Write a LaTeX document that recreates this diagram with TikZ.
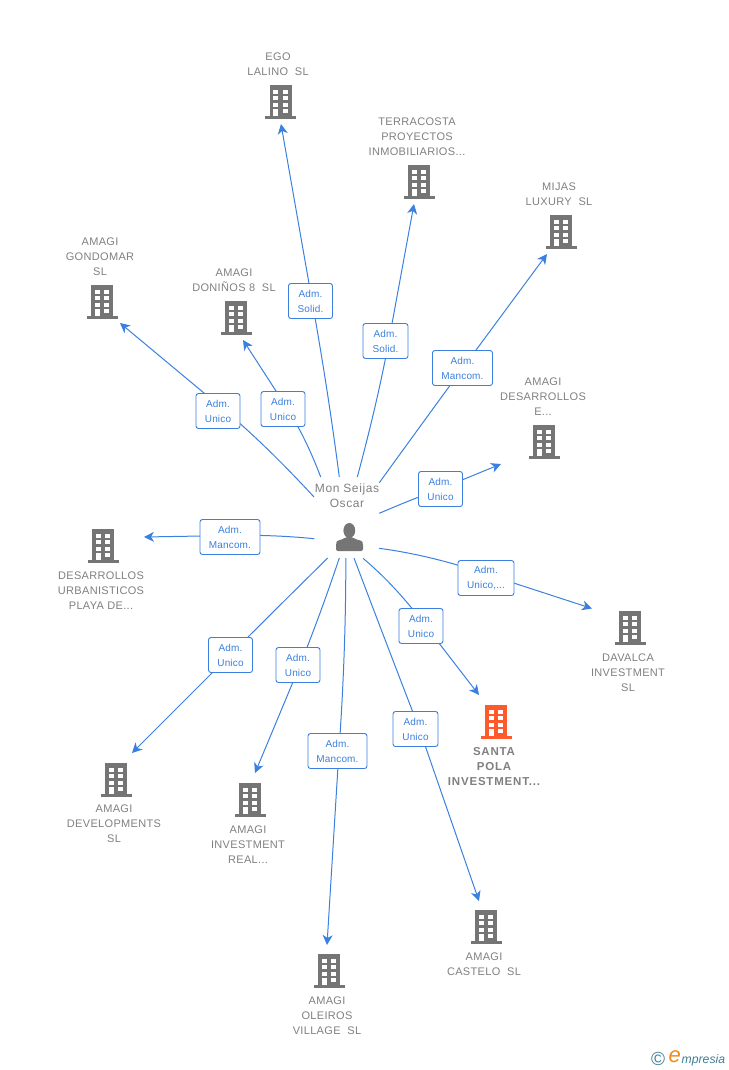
\documentclass[tikz,border=0pt]{standalone}
\usepackage{fontspec}
\setmainfont{Liberation Sans}
\usetikzlibrary{arrows.meta,backgrounds,calc}
\definecolor{linkblue}{HTML}{3B80DE}
\definecolor{txtgrey}{HTML}{808080}
\definecolor{icongrey}{HTML}{757575}
\definecolor{iconorange}{HTML}{FF5A2B}
\definecolor{logoteal}{HTML}{3E7F96}
\definecolor{logoorange}{HTML}{F08A1D}
\tikzset{
  conn/.style={draw=linkblue,line width=1pt},
  connarrow/.style={conn,-{Stealth[length=10pt,width=10pt,inset=3pt]}},
  rolebox/.style={draw=linkblue,line width=.9pt,rounded corners=2.5pt,fill=white,text=linkblue,
    font=\fontsize{10}{15}\selectfont\addfontfeature{LetterSpace=1.5},align=center,inner sep=0pt,minimum height=35pt},
  companylabel/.style={text=txtgrey,font=\fontsize{11}{15}\selectfont\addfontfeature{LetterSpace=3},align=center,inner sep=0pt},
  mainlabel/.style={text=txtgrey,font=\fontsize{11.5}{15}\selectfont\bfseries\addfontfeature{LetterSpace=7},align=center,inner sep=0pt},
  building/.pic={
    \fill[pic actions] (-11,0) rectangle (11,31);
    \fill[pic actions] (-15.5,30.7) rectangle (15.5,33.7);
    \foreach \yy in {4.7,11.2,17.7,24.2}{
      \fill[white] (2.4,\yy) rectangle (7.4,\yy+3.9);}
    \foreach \yy in {4.7,11.2,17.7}{
      \fill[white] (-7.5,\yy) rectangle (-2.5,\yy+3.9);}
    \fill[white] (-7.5,24.2) rectangle (-2.5,31);
  }
}
% start, quadratic control, point under the box, arrow end
\newcommand{\linkup}[4]{%
  \begin{scope}[on background layer]
    \draw[conn] (#1) .. controls ($(#1)!.667!(#2)$) and ($(#3)!.667!(#2)$) .. (#3);
    \draw[connarrow] (#3) -- (#4);
  \end{scope}}
\begin{document}
\begin{tikzpicture}[x=1pt,y=-1pt]
\useasboundingbox (0,0) rectangle (728,1070);
% person
\node[text=txtgrey,font=\fontsize{12}{15}\selectfont\addfontfeature{LetterSpace=5},align=center,inner sep=0pt] (personlabel) at (347,496) {Mon Seijas\\Oscar};
\fill[icongrey] (349.3,530.5) ellipse (5.9 and 7.5);
\fill[icongrey,rounded corners=2pt] (336,551) -- (336,544) .. controls (337,540) and (342,540) .. (345.5,537) -- (353,537) .. controls (356,540) and (362,540) .. (363,544) -- (363,551) -- cycle;
% buildings
\foreach \cx/\ty in {280.5/85,419/165,561/215,544/425,102/285,236/301,103/529,630/611,116/763,250/783,486/910,329/954}{
  \pic[icongrey] at (\cx,\ty) {building};}
\pic[iconorange] at (496,705) {building};
% company labels
\node[companylabel] (ego) at (278,64) {EGO\\LALINO\ \ SL};
\node[companylabel] (terracosta) at (417,137) {TERRACOSTA\\PROYECTOS\\INMOBILIARIOS...};
\node[companylabel] (mijas) at (559,194) {MIJAS\\LUXURY\ \ SL};
\node[companylabel] (desarrollose) at (543,397) {AMAGI\\DESARROLLOS\\E...};
\node[companylabel] (gondomar) at (100,257) {AMAGI\\GONDOMAR\\SL};
\node[companylabel] (doninos) at (234,280) {AMAGI\\DONIÑOS 8\ \ SL};
\node[companylabel] (urbanisticos) at (101,591) {DESARROLLOS\\URBANISTICOS\\PLAYA DE...};
\node[companylabel] (davalca) at (628,673) {DAVALCA\\INVESTMENT\\SL};
\node[mainlabel] (santa) at (494,767) {SANTA\\POLA\\INVESTMENT...};
\node[companylabel] (developments) at (114,824) {AMAGI\\DEVELOPMENTS\\SL};
\node[companylabel] (investment) at (248,845) {AMAGI\\INVESTMENT\\REAL...};
\node[companylabel] (castelo) at (484,964) {AMAGI\\CASTELO\ \ SL};
\node[companylabel] (oleiros) at (327,1016) {AMAGI\\OLEIROS\\VILLAGE\ \ SL};
% role boxes
\node[rolebox,minimum width=44pt] (bego) at (310.5,301) {Adm.\\Solid.};
\node[rolebox,minimum width=45pt] (bterr) at (385.5,341) {Adm.\\Solid.};
\node[rolebox,minimum width=60pt] (bmijas) at (462.5,368) {Adm.\\Mancom.};
\node[rolebox,minimum width=44pt] (bdese) at (440.5,489) {Adm.\\Unico};
\node[rolebox,minimum width=44pt] (bdon) at (283,409) {Adm.\\Unico};
\node[rolebox,minimum width=44pt] (bgon) at (218,411) {Adm.\\Unico};
\node[rolebox,minimum width=60pt] (burb) at (230,537) {Adm.\\Mancom.};
\node[rolebox,minimum width=56pt] (bdav) at (486,578) {Adm.\\Unico,...};
\node[rolebox,minimum width=44pt] (bsan) at (421,626) {Adm.\\Unico};
\node[rolebox,minimum width=45pt] (bcas) at (415.5,729) {Adm.\\Unico};
\node[rolebox,minimum width=59pt] (bole) at (337.5,751) {Adm.\\Mancom.};
\node[rolebox,minimum width=44pt] (binv) at (298,665) {Adm.\\Unico};
\node[rolebox,minimum width=44pt] (bdev) at (230.5,655) {Adm.\\Unico};
% connector points
\coordinate (s1) at (339.3,477); \coordinate (c1) at (328,390); \coordinate (v1) at (312,300.5); \coordinate (e1) at (281,124);
\coordinate (s2) at (357.3,477); \coordinate (c2) at (378,400); \coordinate (v2) at (389,340); \coordinate (e2) at (414,204);
\coordinate (s3) at (379.3,482.7); \coordinate (c3) at (421,425); \coordinate (v3) at (463.5,367); \coordinate (e3) at (547,254);
\coordinate (s4) at (379.3,513.3); \coordinate (c4) at (410,500); \coordinate (v4) at (440,489); \coordinate (e4) at (501,464);
\coordinate (s5) at (320.7,477); \coordinate (c5) at (306,438); \coordinate (v5) at (287,408); \coordinate (e5) at (243,340);
\coordinate (s6) at (314,497); \coordinate (c6) at (266,445); \coordinate (v6) at (224.4,410); \coordinate (e6) at (120,323);
\coordinate (s7) at (314.3,538.7); \coordinate (c7) at (272,534.5); \coordinate (v7) at (230,535.5); \coordinate (e7) at (144,537);
\coordinate (s8) at (379,548.3); \coordinate (c8) at (430,555); \coordinate (v8) at (486,574); \coordinate (e8) at (592,608.5);
\coordinate (s9) at (363,558.3); \coordinate (c9) at (395,585); \coordinate (v9) at (425,625); \coordinate (e9) at (479,695);
\coordinate (s10) at (354,558); \coordinate (c10) at (385,640); \coordinate (v10) at (419,728); \coordinate (e10) at (479,901);
\coordinate (s11) at (345.8,558); \coordinate (c11) at (346,650); \coordinate (v11) at (339,750); \coordinate (e11) at (327,945);
\coordinate (s12) at (339.3,558); \coordinate (c12) at (322,610); \coordinate (v12) at (300.5,664); \coordinate (e12) at (255,773);
\coordinate (s13) at (327.7,558); \coordinate (c13) at (280,605); \coordinate (v13) at (231,654); \coordinate (e13) at (132,753);
\foreach \n in {1,...,13}{\linkup{s\n}{c\n}{v\n}{e\n}}
% logo
\node[text=logoteal,font=\fontsize{19}{19}\selectfont,inner sep=0pt] (logoc) at (658,1059) {©};
\node[text=logoteal,font=\fontsize{12.2}{15}\selectfont\itshape,inner sep=0pt,anchor=west] (logot) at (681.5,1060) {mpresia};
\node[text=logoorange,font=\fontsize{22}{22}\selectfont\itshape,inner sep=0pt,anchor=east] (logoe) at (681,1057) {e};
\end{tikzpicture}
\end{document}
